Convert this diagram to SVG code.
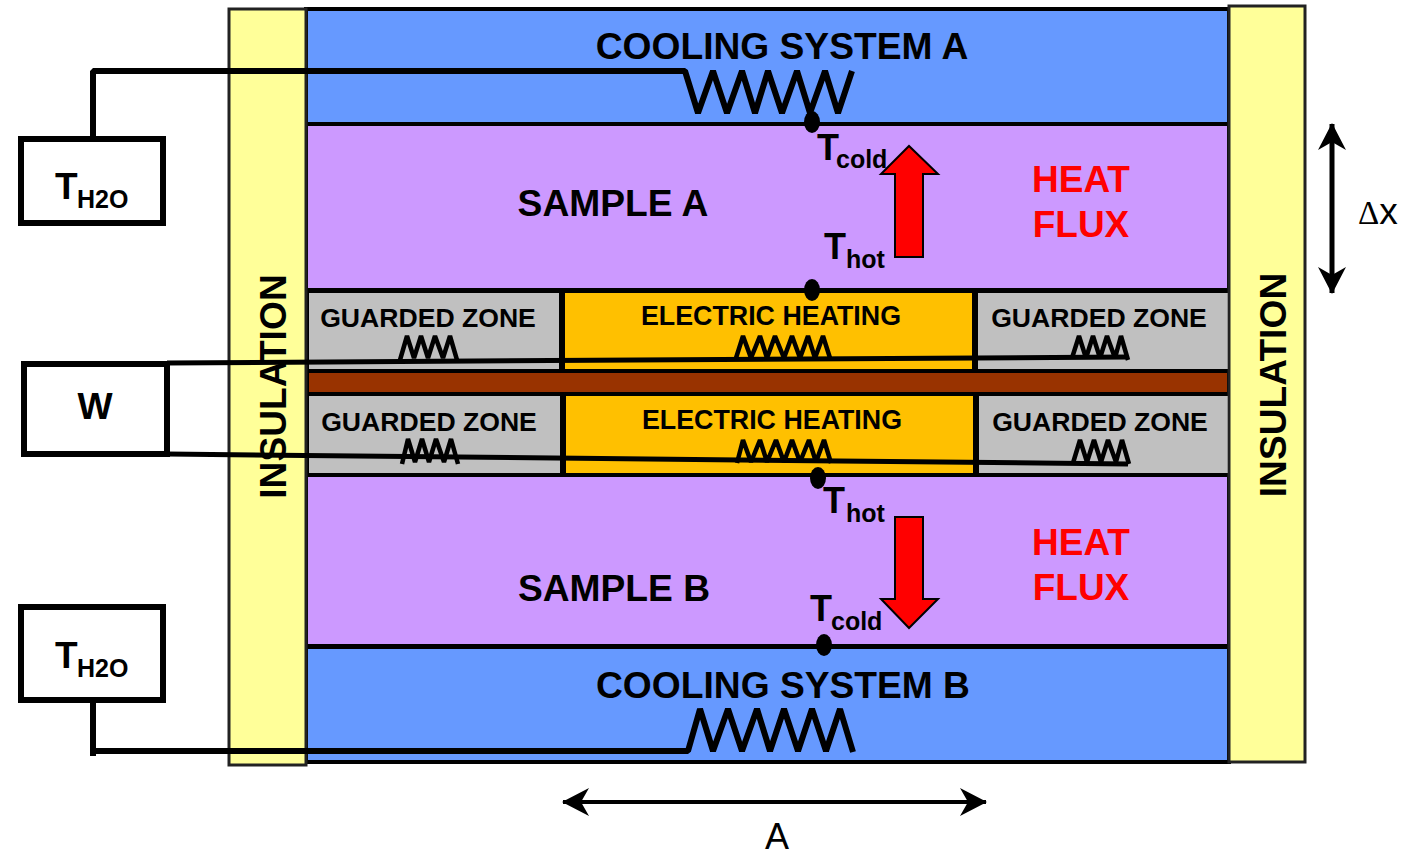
<svg xmlns="http://www.w3.org/2000/svg" width="1403" height="858" viewBox="0 0 1403 858">
<defs>
<marker id="ah" markerUnits="userSpaceOnUse" markerWidth="28" markerHeight="30" refX="26" refY="15" orient="auto-start-reverse" viewBox="0 0 28 30"><path d="M0 1L27 15L0 29L8 15Z" fill="#000"/></marker>
</defs>
<style>
text{font-family:"Liberation Sans",Arial,sans-serif;font-weight:700;fill:#000}
.b{stroke:#000;stroke-width:4}
.w{fill:none;stroke:#000;stroke-linejoin:bevel}
.gz{font-size:26.6px;text-anchor:middle}
.eh{font-size:26.8px;text-anchor:middle}
.hf{font-size:37px;fill:#f00;text-anchor:middle}
.s{font-size:37.2px;text-anchor:middle}
.big{font-size:37px}
.sub{font-size:25px}
.ar{fill:#f00;stroke:#000;stroke-width:2}
.th{font-size:36px}
.plain{font-weight:400;font-size:36px}
</style>
<g id="cooling-a"><rect x="306" y="9" width="923" height="115" fill="#6699ff" class="b"/><text class="s" x="782" y="59">COOLING SYSTEM A</text></g>
<g id="sample-a"><rect x="306" y="124" width="923" height="166" fill="#cc99ff" class="b"/><text class="s" x="613" y="216">SAMPLE A</text></g>
<g id="sample-b"><rect x="306" y="475" width="923" height="171" fill="#cc99ff" class="b"/><text class="s" x="614" y="601">SAMPLE B</text></g>
<g id="cooling-b"><rect x="306" y="646" width="923" height="116" fill="#6699ff" class="b"/><path d="M306 646.5H1229" stroke="#000" stroke-width="5"/><text class="s" x="783" y="698">COOLING SYSTEM B</text></g>
<g id="guard-ul"><rect x="307" y="291" width="255" height="80" fill="#c0c0c0" class="b"/><text class="gz" x="428" y="327">GUARDED ZONE</text></g>
<g id="heat-u"><rect x="562" y="291" width="413" height="80" fill="#ffc000" class="b"/><path d="M562 291V371M975 291V371" stroke="#000" stroke-width="6"/><text class="eh" x="771" y="325">ELECTRIC HEATING</text></g>
<g id="guard-ur"><rect x="978" y="293" width="249" height="76" fill="#c0c0c0"/><path d="M978 291H1229" stroke="#000" stroke-width="4"/><text class="gz" x="1099" y="327">GUARDED ZONE</text></g>
<g id="plate"><rect x="307" y="371" width="922" height="23" fill="#993300" class="b"/></g>
<g id="guard-ll"><rect x="307" y="394" width="256" height="81" fill="#c0c0c0" class="b"/><text class="gz" x="429" y="431">GUARDED ZONE</text></g>
<g id="heat-l"><rect x="563" y="394" width="413" height="81" fill="#ffc000" class="b"/><path d="M563 394V475M976 394V475" stroke="#000" stroke-width="6"/><text class="eh" x="772" y="429">ELECTRIC HEATING</text></g>
<g id="guard-lr"><rect x="979" y="396" width="248" height="77" fill="#c0c0c0"/><path d="M979 475H1229" stroke="#000" stroke-width="4"/><text class="gz" x="1100" y="431">GUARDED ZONE</text></g>
<g id="insulation-left"><rect x="229" y="9" width="77" height="756" fill="#ffff99" style="stroke:#222;stroke-width:3"/><text class="s" transform="translate(286 386.5) rotate(-90)">INSULATION</text></g>
<g id="insulation-right"><rect x="1229" y="6" width="76" height="756" fill="#ffff99" style="stroke:#222;stroke-width:3"/><text class="s" transform="translate(1286 385) rotate(-90)">INSULATION</text></g>
<g id="flux-a"><path class="ar" d="M895 257V174H881L909 146L938 174H923V257Z"/><text class="hf" x="1081" y="192">HEAT</text><text class="hf" x="1081" y="237">FLUX</text></g>
<g id="flux-b"><path class="ar" d="M895 517V599H881L909 628L938 599H923V517Z"/><text class="hf" x="1081" y="555">HEAT</text><text class="hf" x="1081" y="600">FLUX</text></g>
<g id="meter-a"><rect x="21" y="139" width="142" height="84" fill="#fff" stroke="#000" stroke-width="6"/><text class="big" x="55" y="199">T</text><text class="sub" x="77" y="208">H2O</text></g>
<g id="meter-b"><rect x="21" y="607" width="142" height="93" fill="#fff" stroke="#000" stroke-width="6"/><text class="big" x="55" y="668">T</text><text class="sub" x="77" y="677">H2O</text></g>
<g id="wattmeter"><rect x="24" y="364" width="143" height="90" fill="#fff" stroke="#000" stroke-width="6"/><text class="s" x="95" y="419">W</text></g>
<g id="connectors">
<path class="w" stroke-width="6" d="M93 139V71H685L698 113L713 71L727 113L742 71L755 113L768 71L782 113L797 71L810 113L825 71L838 113L852 71"/>
<path class="w" stroke-width="6" d="M93 697V756M93 751H688L700 709L713 751L728 709L742 751L757 709L770 751L784 709L798 751L812 709L826 751L840 709L853 752"/>
<path class="w" stroke-width="5" d="M167 363L1128 357"/>
<path class="w" stroke-width="5" d="M167 454L1128 464"/>
<path class="w" stroke-width="4.5" d="M400 360L407 336L414 358L421 336L428 358L435 336L443 358L450 336L457 360"/>
<path class="w" stroke-width="4.5" d="M402 464L408 439L415 462L422 439L429 462L436 439L444 462L451 439L458 464"/>
<path class="w" stroke-width="4.5" d="M736 358L743 336L751 358L760 336L767 358L775 336L784 358L792 336L800 358L808 336L815 358L823 336L830 358"/>
<path class="w" stroke-width="4.5" d="M737 463L743 440L751 462L760 440L767 462L776 440L784 462L792 440L800 462L809 440L816 462L824 440L831 463"/>
<path class="w" stroke-width="4.5" d="M1072 358L1079 336L1086 358L1093 336L1100 358L1107 336L1115 358L1121 336L1128 360"/>
<path class="w" stroke-width="4.5" d="M1073 463L1080 440L1087 462L1094 440L1101 462L1108 440L1116 462L1122 440L1129 464"/>
<path class="w" stroke-width="5" marker-start="url(#ah)" marker-end="url(#ah)" d="M1332 124V293"/>
<path class="w" stroke-width="4" marker-start="url(#ah)" marker-end="url(#ah)" d="M563 802H986"/>
</g>
<g id="t-cold-a"><ellipse cx="812" cy="122" rx="8" ry="11"/><text class="th" x="817" y="160">T</text><text class="sub" x="836" y="168">cold</text></g>
<g id="t-hot-a"><ellipse cx="812" cy="290" rx="8" ry="11"/><text class="th" x="824" y="259">T</text><text class="sub" x="846" y="268">hot</text></g>
<g id="t-hot-b"><ellipse cx="818" cy="478" rx="8" ry="11"/><text class="th" x="823" y="513">T</text><text class="sub" x="846" y="522">hot</text></g>
<g id="t-cold-b"><ellipse cx="824" cy="645" rx="8" ry="11"/><text class="th" x="810" y="621">T</text><text class="sub" x="831" y="630">cold</text></g>
<g id="dims"><text class="plain" x="1358" y="224"><tspan style="font-family:'Liberation Serif',serif" font-size="33">Δ</tspan><tspan font-size="37">x</tspan></text><text class="plain" x="765" y="849">A</text></g>
</svg>
